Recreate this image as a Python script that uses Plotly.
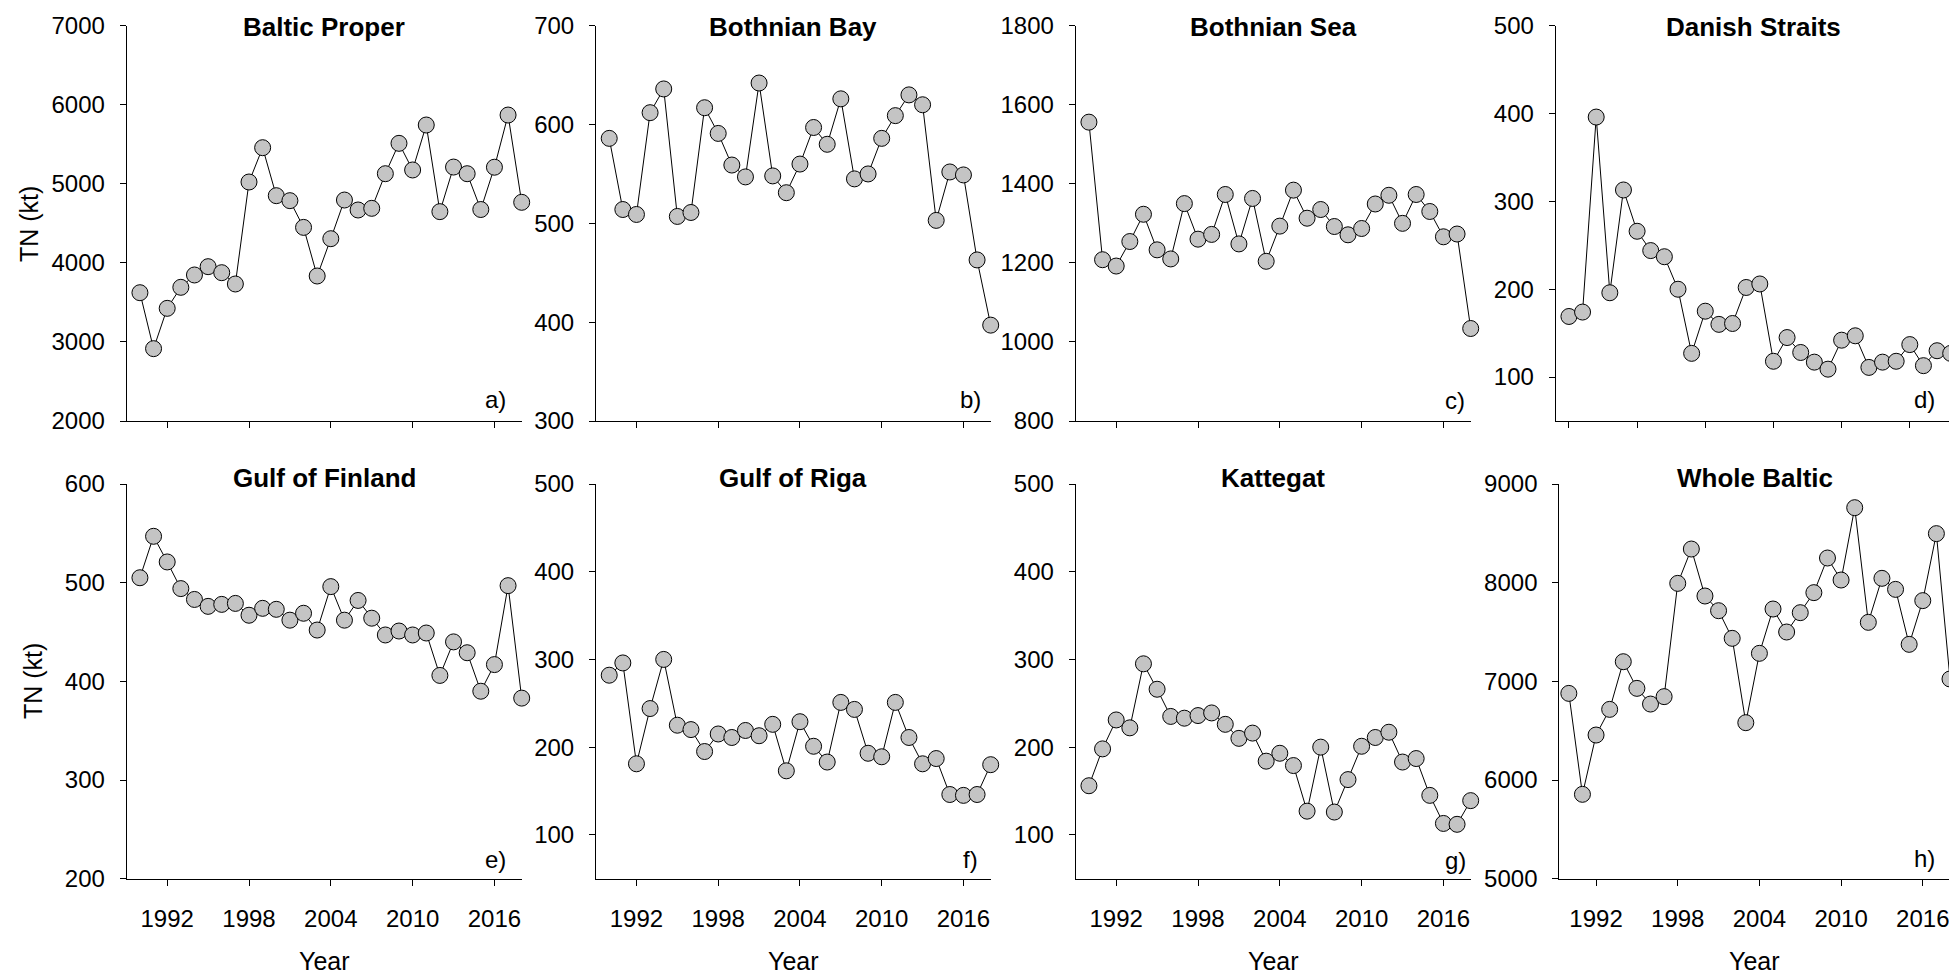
import plotly.graph_objects as go

# page is rendered with an 8px body margin: figure pixel = page pixel - 8
PAGE_W, PAGE_H = 1957, 974
OFF = 8
W, H = PAGE_W - OFF, PAGE_H - OFF


def fx(p):
    return (p - OFF) / W


def fy(p):
    return 1 - (p - OFF) / H


# ---------------- data ----------------
years = list(range(1990, 2019))

baltic_proper = [3623, 2915, 3425, 3691, 3847, 3952, 3876, 3733, 5023, 5457,
                 4850, 4787, 4449, 3834, 4306, 4795, 4669, 4690, 5128, 5512,
                 5175, 5744, 4648, 5212, 5128, 4675, 5210, 5870, 4766]
bothnian_bay = [586, 514, 509, 612, 636, 507, 511, 617, 591, 559,
                547, 642, 548, 531, 560, 597, 580, 626, 545, 550,
                586, 609, 630, 620, 503, 552, 549, 463, 397]
bothnian_sea = [1556, 1208, 1192, 1254, 1323, 1233, 1210, 1350, 1260, 1272,
                1373, 1248, 1363, 1204, 1293, 1384, 1313, 1335, 1292, 1271,
                1287, 1349, 1371, 1300, 1373, 1330, 1266, 1273, 1034]
danish_straits = [169, 174, 396, 196, 313, 266, 244, 237, 200, 127,
                  175, 160, 161, 202, 206, 118, 145, 128, 117, 109,
                  142, 147, 111, 117, 118, 137, 113, 130, 127]
gulf_of_finland = [505, 547, 521, 494, 483, 476, 478, 479, 467, 474,
                   473, 462, 469, 452, 496, 462, 482, 464, 447, 451,
                   447, 449, 406, 440, 429, 390, 417, 497, 383]
gulf_of_riga = [282, 296, 181, 244, 300, 225, 220, 195, 215, 211,
                219, 213, 226, 173, 229, 201, 183, 251, 243, 193,
                189, 251, 211, 181, 187, 146, 145, 146, 180]
kattegat = [156, 198, 231, 222, 295, 266, 235, 233, 236, 239,
            226, 210, 216, 184, 193, 179, 127, 200, 126, 163,
            201, 211, 217, 183, 187, 145, 113, 112, 139]
whole_baltic = [6878, 5855, 6456, 6716, 7199, 6929, 6770, 6845, 7993, 8341,
                7865, 7716, 7436, 6581, 7284, 7733, 7500, 7696, 7899, 8250,
                8027, 8760, 7598, 8044, 7932, 7375, 7818, 8497, 7024]

titles = ["Baltic Proper", "Bothnian Bay", "Bothnian Sea", "Danish Straits",
          "Gulf of Finland", "Gulf of Riga", "Kattegat", "Whole Baltic"]
letters = ["a)", "b)", "c)", "d)", "e)", "f)", "g)", "h)"]

yticks_a = [2000, 3000, 4000, 5000, 6000, 7000]
yticks_b = [300, 400, 500, 600, 700]
yticks_c = [800, 1000, 1200, 1400, 1600, 1800]
yticks_d = [100, 200, 300, 400, 500]
yticks_e = [200, 300, 400, 500, 600]
yticks_f = [100, 200, 300, 400, 500]
yticks_g = [100, 200, 300, 400, 500]
yticks_h = [5000, 6000, 7000, 8000, 9000]

xticks_main = [1992, 1998, 2004, 2010, 2016]
xticks_d = [1990, 1995, 2000, 2005, 2010, 2015]

series = [baltic_proper, bothnian_bay, bothnian_sea, danish_straits,
          gulf_of_finland, gulf_of_riga, kattegat, whole_baltic]
yticks = [yticks_a, yticks_b, yticks_c, yticks_d,
          yticks_e, yticks_f, yticks_g, yticks_h]

# ---------------- layout geometry (page pixels) ----------------
yranges = [[2000, 7000], [300, 700], [800, 1800], [50, 500],
           [200, 600], [50, 500], [50, 500], [5000, 9000]]
xdoms = [(126.7, 521.7), (596, 990.7), (1075.7, 1470.7), (1555.7, 1950.7),
         (126.7, 521.7), (596, 990.7), (1075.7, 1470.7), (1559.3, 1950)]
xranges = [[1989.03, 2018]] * 7 + [[1989.3, 2018]]
rows_px = [(25.7, 421), (484, 878.7)]

FONT = "Liberation Sans, Arial, sans-serif"

fig = go.Figure()
layout = dict(
    template="none",
    width=W, height=H,
    margin=dict(l=0, r=0, t=0, b=0, pad=0, autoexpand=False),
    paper_bgcolor="white", plot_bgcolor="white",
    showlegend=False,
    font=dict(family=FONT, size=24, color="black"),
)
annotations = []

for i in range(8):
    n = i + 1
    row = 0 if i < 4 else 1
    x0, x1 = xdoms[i]
    top, bot = rows_px[row]
    xa = "xaxis" if n == 1 else f"xaxis{n}"
    ya = "yaxis" if n == 1 else f"yaxis{n}"
    xref = "x" if n == 1 else f"x{n}"
    yref = "y" if n == 1 else f"y{n}"

    fig.add_trace(go.Scatter(
        x=years, y=series[i], mode="lines+markers",
        xaxis=xref, yaxis=yref, cliponaxis=False,
        line=dict(color="black", width=1),
        marker=dict(size=16, color="#c4c4c4",
                    line=dict(color="black", width=1)),
    ))

    xt = xticks_d if i == 3 else xticks_main
    layout[xa] = dict(
        domain=[fx(x0), fx(x1)], range=xranges[i], anchor=yref,
        automargin=False,
        showline=True, linecolor="black", linewidth=1,
        ticks="outside", ticklen=6, tickwidth=1, tickcolor="black",
        tickvals=xt, ticktext=[str(v) for v in xt],
        showticklabels=(row == 1), ticklabelstandoff=12,
        showgrid=False, zeroline=False, fixedrange=True,
        tickfont=dict(family=FONT, size=24, color="black"),
    )
    layout[ya] = dict(
        domain=[fy(bot), fy(top)], range=yranges[i], anchor=xref,
        automargin=False,
        showline=True, linecolor="black", linewidth=1,
        ticks="outside", ticklen=6, tickwidth=1, tickcolor="black",
        tickvals=yticks[i], ticktext=[str(v) for v in yticks[i]],
        ticklabelstandoff=10,
        showgrid=False, zeroline=False, fixedrange=True,
        tickfont=dict(family=FONT, size=24, color="black"),
    )

    # panel title
    title_y = 27 if row == 0 else 477.5
    annotations.append(dict(
        text="<b>" + titles[i] + "</b>", xref="paper", yref="paper",
        x=fx((x0 + x1) / 2), y=fy(title_y),
        xanchor="center", yanchor="middle", showarrow=False,
        font=dict(family=FONT, size=26, color="black"),
    ))

letter_pos = [(508.3, 399), (983.3, 399), (1466.7, 401), (1937.3, 399),
              (508.5, 859), (980, 859), (1468.3, 860), (1937.3, 858)]
for i, (lx, ly) in enumerate(letter_pos):
    annotations.append(dict(
        text=letters[i], xref="paper", yref="paper",
        x=fx(lx), y=fy(ly), xanchor="right", yanchor="middle",
        showarrow=False, font=dict(family=FONT, size=24, color="black"),
    ))

# y-axis titles
for cx, cy in [(29, 224), (33, 681)]:
    annotations.append(dict(
        text="TN (kt)", xref="paper", yref="paper",
        x=fx(cx), y=fy(cy), xanchor="center", yanchor="middle",
        textangle=-90, showarrow=False,
        font=dict(family=FONT, size=25, color="black"),
    ))

# x-axis titles
for i in range(4, 8):
    x0, x1 = xdoms[i]
    annotations.append(dict(
        text="Year", xref="paper", yref="paper",
        x=fx((x0 + x1) / 2), y=fy(960.5),
        xanchor="center", yanchor="middle", showarrow=False,
        font=dict(family=FONT, size=25, color="black"),
    ))

layout["annotations"] = annotations
fig.update_layout(**layout)
fig.write_html("out.html")
